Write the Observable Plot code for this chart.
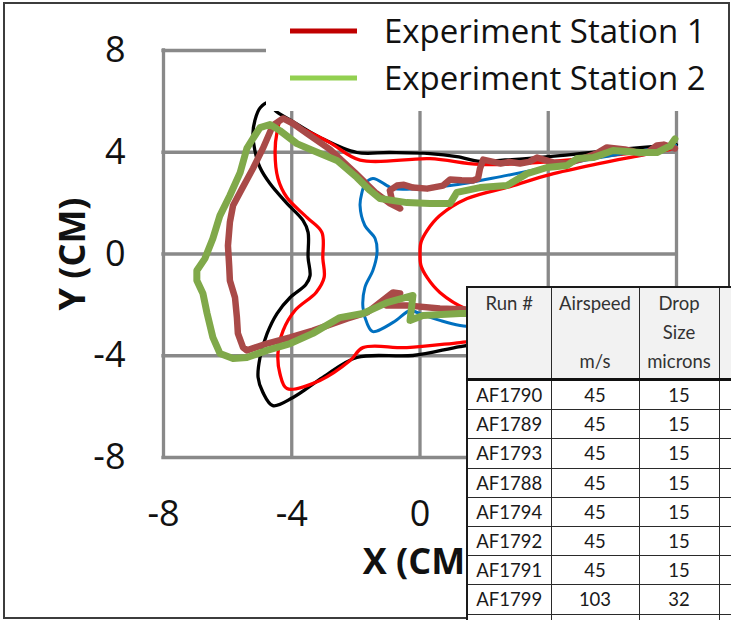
<!DOCTYPE html>
<html>
<head>
<meta charset="utf-8">
<script src="https://cdn.jsdelivr.net/npm/d3@7"></script>
<script src="https://cdn.jsdelivr.net/npm/@observablehq/plot@0.6"></script>
<style>
  html, body { margin: 0; padding: 0; background: #fff; overflow: hidden; }
  #wrap { position: relative; width: 731px; height: 620px; overflow: hidden; font-family: "Open Sans", sans-serif; }
  #chart { position: absolute; left: 0; top: 0; }
  #legend { position: absolute; left: 266px; top: 5px; width: 459px; height: 106px; background: #fff; }
  #frame { position: absolute; left: 3px; top: 2px; width: 727px; height: 617px; box-sizing: border-box; border: 2px solid #3c3c3c; pointer-events: none; }
  #runs { position: absolute; left: 466px; top: 286px; width: 332px; border-collapse: collapse; table-layout: fixed; background: #fff;
          font-family: Lato, sans-serif; font-size: 18.5px; color: #1a1a1a; border: 2px solid #1a1a1a; }
  #runs th, #runs td { border: 1px solid #2a2a2a; padding: 0; text-align: center; white-space: nowrap; overflow: hidden; }
  #runs th { background: #f2f2f2; font-weight: normal; vertical-align: top; height: 89px; line-height: 29px; padding-top: 1px; color: #333; }
  #runs thead tr { border-bottom: 3px solid #111; }
  #runs td { height: 28.2px; line-height: 28px; }
</style>
</head>
<body>
<div id="wrap">
  <div id="chart"></div>
  <div id="legend"></div>
  <div id="frame"></div>
</div>
<script>
// Grid positions and tick labels (cm); the x labels at 4 and 8 sit under the run table
const xGrid = [-8, -4, 0, 4, 8];
const yGrid = [-8, -4, 0, 4, 8];
const xTickLabels = [-8, -4, 0];
const yTickLabels = [-8, -4, 0, 4, 8];

// Clean leading edge
const airfoil = [[7.98,4.15],[6.86,3.87],[5.61,3.56],[4.05,3.12],[2.81,2.65],[1.47,2.18],[0.62,1.51],[0.22,0.92],[0.03,0.45],[0,0],
  [0.03,-0.45],[0.22,-0.92],[0.62,-1.51],[1.47,-2.18],[2.81,-2.65],[4.05,-3.12],[5.61,-3.56],[7.98,-4.15]];

// Computed ice shapes
const blackShape = [[8.0,4.3],[6.24,4.11],[4.37,3.87],[2.50,3.68],[1.87,3.64],[1.15,3.83],[0.31,3.95],[-0.94,3.99],[-1.97,3.99],
  [-3.12,4.58],[-4.05,5.27],[-4.5,5.62],[-4.72,5.95],[-4.99,5.74],[-5.15,5.25],[-5.21,4.74],[-5.15,4.07],[-4.99,3.40],[-4.68,2.77],
  [-4.15,1.99],[-3.65,1.32],[-3.49,0.85],[-3.49,-0.14],[-3.43,-0.85],[-3.56,-1.20],[-4.05,-1.71],[-4.46,-2.34],[-4.77,-3.13],
  [-4.99,-4.07],[-5.05,-4.85],[-4.90,-5.44],[-4.59,-5.96],[-3.96,-5.64],[-3.03,-4.85],[-1.97,-4.07],[-0.22,-3.99],[1.25,-3.64],
  [2.50,-3.40],[4.37,-3.2]];

const redShape = [[7.98,4.15],[5.61,3.83],[3.74,3.60],[1.87,3.52],[0.31,3.75],[-1.87,3.69],[-2.81,4.38],[-3.74,4.97],[-4.15,5.25],
  [-4.34,5.25],[-4.46,4.78],[-4.52,3.99],[-4.43,2.97],[-4.15,2.22],[-3.52,1.43],[-3.06,0.85],[-3.03,-0.18],[-2.99,-0.92],
  [-3.24,-1.51],[-3.90,-2.22],[-4.27,-3.01],[-4.43,-3.91],[-4.37,-4.70],[-4.15,-5.29],[-3.12,-4.97],[-2.18,-4.19],[-1.78,-3.68],
  [-0.41,-3.68],[1.25,-3.48],[2.50,-3.32],[4.37,-3.16]];

const blueShape = [[7.98,4.27],[5.61,3.79],[3.96,3.40],[2.71,3.09],[0.94,2.69],[-0.84,2.57],[-1.03,2.69],[-1.47,2.97],[-1.72,2.75],
  [-1.81,2.42],[-1.87,1.91],[-1.72,1.12],[-1.40,0.61],[-1.34,0.06],[-1.47,-0.65],[-1.72,-1.32],[-1.78,-2.10],[-1.65,-2.73],
  [-1.47,-3.05],[-0.84,-2.69],[-0.31,-2.22],[-0.09,-2.30],[0.62,-2.61],[1.25,-2.81],[2.50,-2.93],[4.0,-3.2]];

// Measured ice tracings
const station1 = [[7.95,4.15],[7.6,4.3],[7.39,4.27],[7.1,4.0],[6.86,3.95],[6.6,4.05],[6.39,4.11],[5.83,4.19],[5.5,3.95],[5.08,3.75],
  [4.59,3.56],[4.15,3.60],[3.65,3.79],[3.4,3.62],[3.12,3.56],[2.8,3.62],[2.50,3.56],[1.97,3.71],[1.87,3.36],[1.81,2.97],[1.65,2.89],
  [1.3,2.9],[0.94,2.93],[0.72,2.69],[0.22,2.57],[-0.22,2.61],[-0.5,2.72],[-0.72,2.69],[-0.94,2.50],[-0.87,2.10],[-0.62,1.79],
  [-0.94,1.99],[-1.40,2.42],[-2.03,3.20],[-2.81,4.11],[-3.52,4.73],[-3.96,5.13],[-4.27,5.33],[-4.59,5.05],[-4.90,4.15],[-5.21,3.36],
  [-5.55,2.57],[-5.83,1.91],[-5.93,1.24],[-5.99,0.33],[-5.95,-0.5],[-5.93,-1.04],[-5.77,-1.71],[-5.71,-2.50],[-5.68,-3.12],
  [-5.52,-3.67],[-5.40,-3.79],[-4.77,-3.52],[-4.05,-3.28],[-3.34,-3.01],[-2.28,-2.54],[-1.65,-2.30],[-1.25,-1.91],[-0.84,-1.51],
  [-0.62,-1.55],[-1.06,-2.02],[-0.41,-2.02],[0.62,-2.14],[1.47,-2.18],[2.5,-2.2]];

const station2 = [[7.95,4.52],[7.80,4.25],[7.39,3.99],[6.86,3.99],[6.02,4.07],[5.40,3.79],[4.90,3.75],[4.59,3.48],[3.96,3.40],
  [3.34,3.16],[2.71,2.69],[1.87,2.61],[1.15,2.42],[0.94,1.99],[0.31,1.99],[-0.41,2.02],[-1.25,2.18],[-1.56,2.50],[-1.97,3.01],
  [-2.59,3.68],[-3.34,4.07],[-3.84,4.34],[-4.37,4.85],[-4.68,5.09],[-4.99,4.97],[-5.21,4.54],[-5.40,4.15],[-5.61,3.20],
  [-5.93,2.30],[-6.24,1.51],[-6.46,0.61],[-6.71,-0.18],[-6.96,-0.65],[-6.96,-1.04],[-6.77,-1.55],[-6.64,-2.34],[-6.46,-3.28],
  [-6.24,-3.91],[-5.83,-4.11],[-5.40,-4.07],[-4.77,-3.79],[-4.05,-3.52],[-3.34,-3.12],[-2.50,-2.50],[-1.78,-2.34],[-1.03,-1.91],
  [-0.22,-1.63],[-0.31,-2.61],[0.09,-2.42],[1.25,-2.34],[2.5,-2.34]];

// Legend entries
const legendLabels = ["Experiment Station 1", "Experiment Station 2"];
const legendColors = ["#c00000", "#92d050"];

// Run table
const tableHeaders = [["Run #"], ["Airspeed", "", "m/s"], ["Drop", "Size", "microns"], [""]];
const runIds = ["AF1790", "AF1789", "AF1793", "AF1788", "AF1794", "AF1792", "AF1791", "AF1799", "AF1798"];
const airspeeds = [45, 45, 45, 45, 45, 45, 45, 103, 103];
const dropSizes = [15, 15, 15, 15, 15, 15, 15, 32, 20];

const P = d => d[0], Q = d => d[1];
const smooth = (data, stroke, w) => Plot.line(data, {x: P, y: Q, stroke, strokeWidth: w, curve: "catmull-rom", strokeLinejoin: "round"});
const rough = (data, stroke, w) => Plot.line(data, {x: P, y: Q, stroke, strokeWidth: w, strokeLinejoin: "round", strokeLinecap: "round"});

const chart = Plot.plot({
  width: 731,
  height: 620,
  marginLeft: 163,
  marginRight: 55,
  marginTop: 50,
  marginBottom: 163,
  x: {domain: [-8, 8]},
  y: {domain: [-8, 8]},
  style: {fontFamily: "'Open Sans', sans-serif", background: "transparent", color: "#111", overflow: "visible"},
  marks: [
    Plot.gridX(xGrid, {stroke: "#898989", strokeWidth: 3.3, strokeOpacity: 1, strokeLinecap: "square"}),
    Plot.gridY(yGrid, {stroke: "#898989", strokeWidth: 3.3, strokeOpacity: 1, strokeLinecap: "square"}),
    Plot.axisX(xTickLabels, {tickSize: 0, tickPadding: 43, fontSize: 36, tickFormat: d => String(d), label: null}),
    Plot.axisY(yTickLabels, {tickSize: 0, tickPadding: 38, fontSize: 36, tickFormat: d => String(d), label: null}),
    smooth(airfoil, "#ff0000", 3.3),
    smooth(blackShape, "#000000", 3.3),
    smooth(redShape, "#ff0000", 3.3),
    smooth(blueShape, "#0070c0", 3.0),
    rough(station1, "#a94a48", 6.5),
    rough(station2, "#80a94a", 7),
    Plot.text(["X (CM)"], {text: d => d, frameAnchor: "bottom", dy: 116, lineAnchor: "bottom", textAnchor: "middle",
      fontSize: 36, fontWeight: "bold", fill: "#111"}),
    Plot.text(["Y (CM)"], {text: d => d, frameAnchor: "left", dx: -90.5, rotate: -90, textAnchor: "middle", lineAnchor: "middle",
      fontSize: 36, fontWeight: "bold", fill: "#111"})
  ]
});
document.getElementById("chart").appendChild(chart);

// Legend box
const lg = d3.select("#legend").append("svg").attr("width", 459).attr("height", 106);
legendLabels.forEach((label, i) => {
  const cy = 26 + i * 47;
  lg.append("line").attr("x1", 24).attr("x2", 91).attr("y1", cy).attr("y2", cy)
    .attr("stroke", legendColors[i]).attr("stroke-width", 5);
  lg.append("text").attr("x", 118).attr("y", 38 + i * 47)
    .attr("font-family", "'Open Sans', sans-serif").attr("font-size", 33).attr("fill", "#111").text(label);
});

// Run table
const table = d3.select("#wrap").append("table").attr("id", "runs");
const colWidths = [84, 88, 80, 80];
const colgroup = table.append("colgroup");
colWidths.forEach(w => colgroup.append("col").style("width", w + "px"));
const head = table.append("thead").append("tr");
tableHeaders.forEach(lines => {
  const th = head.append("th");
  lines.forEach((t, i) => { if (i) th.append("br"); th.append("span").text(t); });
});
const body = table.append("tbody");
runIds.forEach((id, i) => {
  const tr = body.append("tr");
  [id, airspeeds[i], dropSizes[i], ""].forEach(v => tr.append("td").text(v));
});
</script>
</body>
</html>
